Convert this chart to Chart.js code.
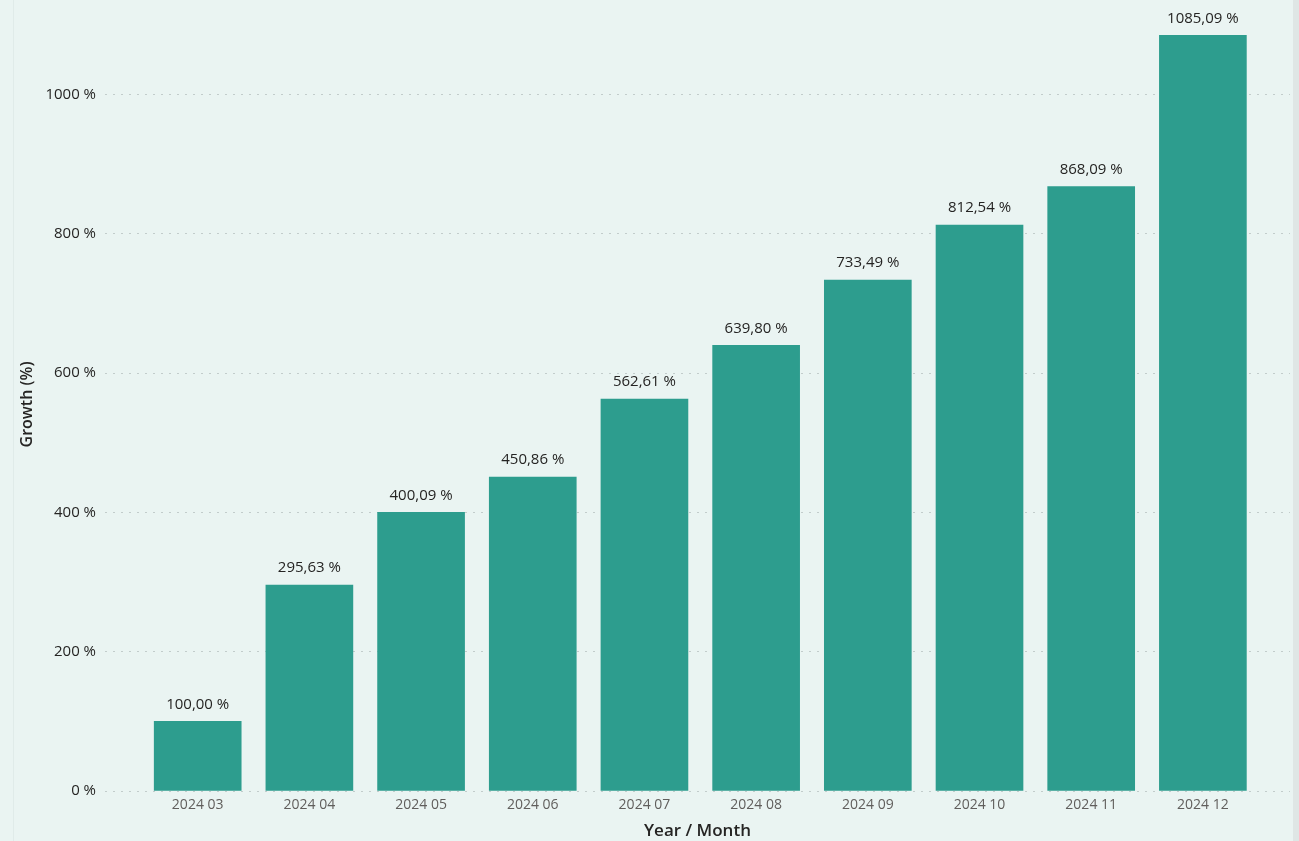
<!DOCTYPE html>
<html>
<head>
<meta charset="utf-8">
<script src="https://cdn.jsdelivr.net/npm/chart.js@4.4.1/dist/chart.umd.min.js"></script>
<style>
  html, body { margin: 0; padding: 0; background: #eaf4f2; }
  #wrap { position: relative; width: 1299px; height: 841px; }
  #edgeL { position: absolute; left: 13px; top: 0; width: 1px; height: 841px; background: #e0ebe9; }
  #edgeR { position: absolute; left: 1293px; top: 0; width: 6px; height: 841px; background: #dfe6e5; }
</style>
</head>
<body>
<div id="wrap">
  <div id="edgeL"></div>
  <div id="edgeR"></div>
  <canvas id="bar-chart" width="1299" height="841"></canvas>
</div>
<script>
const months = ['2024 03', '2024 04', '2024 05', '2024 06', '2024 07', '2024 08', '2024 09', '2024 10', '2024 11', '2024 12'];
const growth = [100.00, 295.63, 400.09, 450.86, 562.61, 639.80, 733.49, 812.54, 868.09, 1085.09];
const yTicks = [0, 200, 400, 600, 800, 1000];

const fontFamily = '"Open Sans", "Noto Sans", sans-serif';

function fmt(v) {
  return v.toFixed(2).replace('.', ',') + ' %';
}

// labels above each bar
const valueLabels = {
  id: 'valueLabels',
  afterDatasetsDraw(chart) {
    const ctx = chart.ctx;
    const meta = chart.getDatasetMeta(0);
    ctx.save();
    ctx.font = '15px ' + fontFamily;
    ctx.fillStyle = '#252423';
    ctx.textAlign = 'center';
    ctx.textBaseline = 'middle';
    meta.data.forEach((bar, i) => {
      ctx.fillText(fmt(growth[i]), bar.x, bar.y - 17);
    });
    ctx.restore();
  }
};

const ctx = document.getElementById('bar-chart').getContext('2d');
new Chart(ctx, {
  type: 'bar',
  data: {
    datasets: [{
      data: growth.map((v, i) => ({ x: i, y: v })),
      backgroundColor: '#2d9d8e',
      borderWidth: 0,
      barThickness: 87
    }]
  },
  options: {
    responsive: false,
    animation: false,
    layout: { padding: { top: 2, right: 9, left: 0, bottom: 0 } },
    plugins: {
      legend: { display: false },
      tooltip: { enabled: false }
    },
    scales: {
      x: {
        type: 'linear',
        min: -0.83,
        max: 9.78,
        offset: false,
        afterFit: s => { s.height = 50; },
        afterBuildTicks: s => { s.ticks = months.map((m, i) => ({ value: i })); },
        grid: { display: false, drawTicks: false },
        border: { display: false },
        ticks: {
          padding: 6,
          color: '#605e5c',
          font: { family: fontFamily, size: 14 },
          maxRotation: 0,
          autoSkip: false,
          callback: v => months[v]
        },
        title: {
          display: true,
          text: 'Year / Month',
          color: '#252423',
          font: { family: fontFamily, size: 17, weight: '600' },
          padding: { top: 0, bottom: 0 }
        }
      },
      y: {
        min: 0,
        max: 1110,
        afterFit: s => { s.width = 105; },
        afterBuildTicks: s => { s.ticks = yTicks.map(v => ({ value: v })); },
        grid: {
          color: '#c2cccb',
          lineWidth: 1,
          drawTicks: false
        },
        border: { display: false, dash: [2, 6] },
        ticks: {
          padding: 9,
          color: '#252423',
          font: { family: fontFamily, size: 15 },
          callback: v => v + ' %'
        },
        title: {
          display: true,
          text: 'Growth (%)',
          color: '#252423',
          font: { family: fontFamily, size: 16, weight: '600' },
          padding: { top: 18, bottom: 0 }
        }
      }
    }
  },
  plugins: [valueLabels]
});
</script>
</body>
</html>
